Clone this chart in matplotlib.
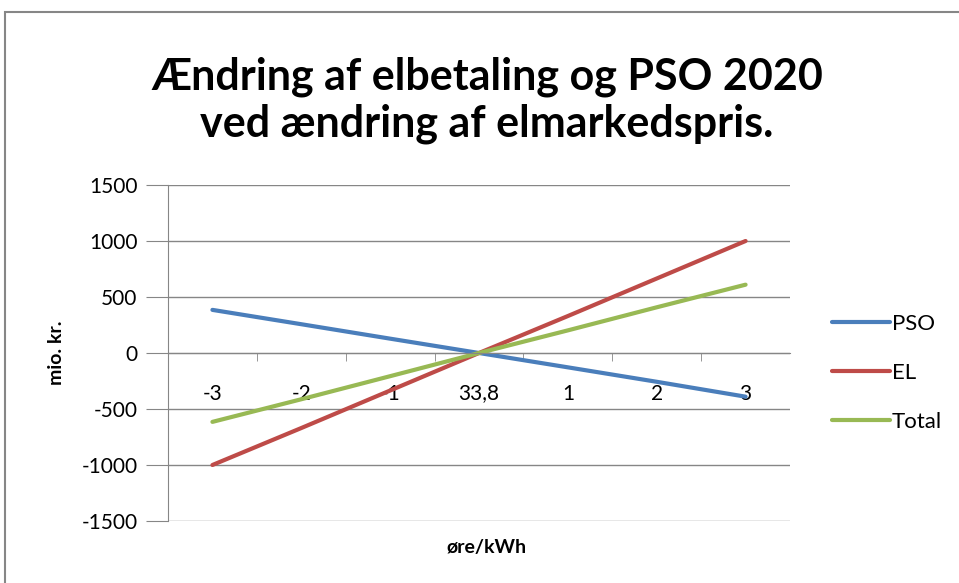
import numpy as np
from matplotlib import pyplot as plt
from matplotlib.patches import Rectangle

categories = ['-3', '-2', '-1', '33,8', '1', '2', '3']
pso = [385, 257, 128, 0, -128, -257, -390]
el = [-1000, -670, -335, 0, 330, 665, 1000]
total = [-615, -413, -207, 0, 202, 408, 610]

plt.rcParams['font.family'] = ['Lato', 'DejaVu Sans']
plt.rcParams['axes.unicode_minus'] = False

fig = plt.figure(figsize=(9.59, 5.83), dpi=100)
fig.patches.append(Rectangle((5 / 959, -0.1), 1.2, 1 - 12 / 583 + 0.1, transform=fig.transFigure,
                             fill=False, edgecolor='#868686', linewidth=1.5))
ax = fig.add_axes([168 / 959, 1 - 521 / 583, 622 / 959, 336 / 583])

x = np.arange(len(categories))
ax.plot(x, pso, color='#4A7EBB', linewidth=3, label='PSO', solid_capstyle='round')
ax.plot(x, el, color='#BE4B48', linewidth=3, label='EL', solid_capstyle='round')
ax.plot(x, total, color='#98B954', linewidth=3, label='Total', solid_capstyle='round')

ax.set_xlim(-0.5, len(categories) - 0.5)
ax.set_ylim(-1500, 1500)
ax.set_yticks(np.arange(-1500, 1501, 500))
ax.yaxis.grid(True, color='#868686', linewidth=1)
ax.set_axisbelow(True)

for s in ['top', 'right']:
    ax.spines[s].set_visible(False)
ax.spines['left'].set_color('#868686')
ax.spines['bottom'].set_color('#868686')
ax.spines['bottom'].set_position(('data', 0))

ax.set_xticks(x)
ax.set_xticklabels(categories)
ax.set_xticks(np.arange(0.5, len(categories) - 0.5, 1), minor=True)
ax.tick_params(axis='x', which='major', length=0, pad=22, labelsize=15)
ax.tick_params(axis='x', which='minor', length=6, color='#868686', direction='out')
ax.tick_params(axis='y', length=16, color='#868686', labelsize=15, pad=6)

ax.set_ylabel('mio. kr.', fontsize=14, fontweight='bold', labelpad=12)
fig.text(487 / 959, 1 - 548 / 583, 'øre/kWh', ha='center', va='center', fontsize=14, fontweight='bold')

fig.text(487 / 959, 1 - 100 / 583, 'Ændring af elbetaling og PSO 2020\nved ændring af elmarkedspris.',
         ha='center', va='center', fontsize=31, fontweight='bold', linespacing=1.2)

ax.legend(loc='center left', bbox_to_anchor=(812 / 959, 1 - 373 / 583), bbox_transform=fig.transFigure,
          frameon=False, fontsize=16, handlelength=2.6, handletextpad=0.1, labelspacing=1.3)

plt.savefig('out.png', dpi=100)
